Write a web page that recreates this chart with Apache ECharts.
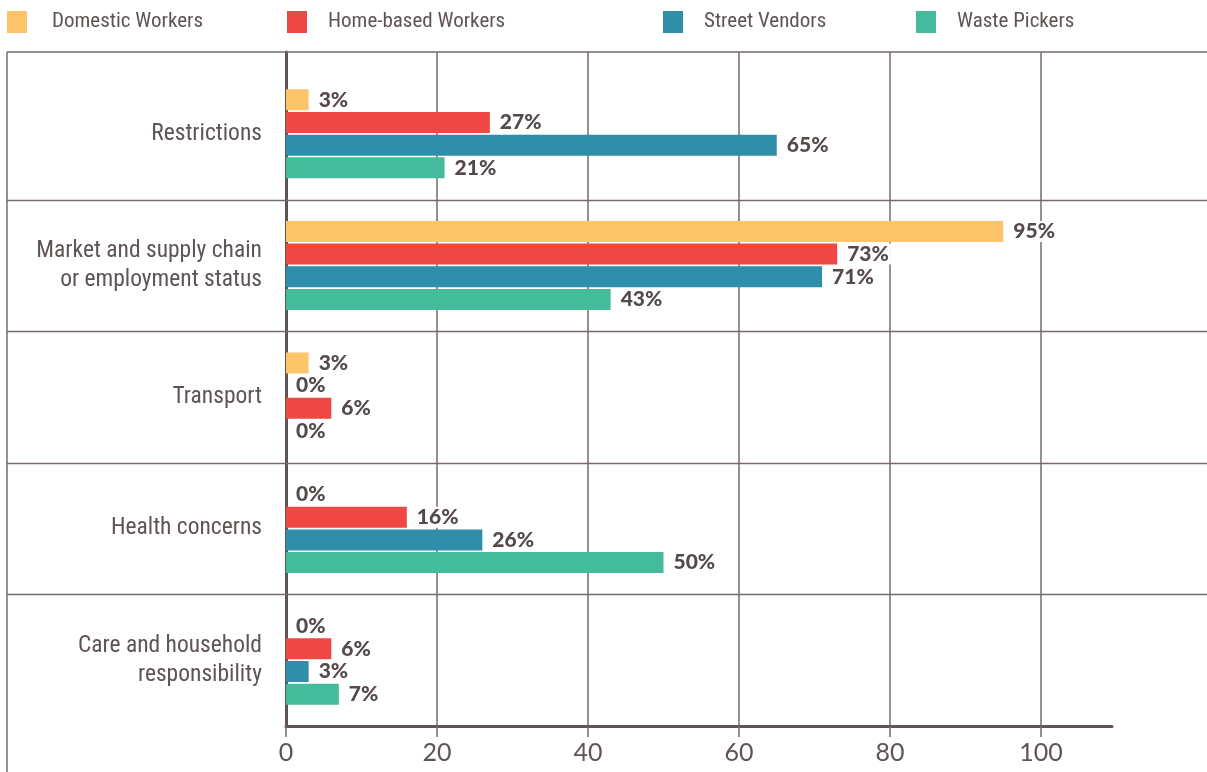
<!DOCTYPE html>
<html>
<head>
<meta charset="utf-8">
<script src="https://cdn.jsdelivr.net/npm/echarts@6/dist/echarts.min.js"></script>
<style>
html, body { margin: 0; padding: 0; background: #fff; }
#chart { width: 1207px; height: 772px; }
</style>
</head>
<body>
<div id="chart"></div>
<script>
var categories = ['Restrictions', 'Market and supply chain\nor employment status', 'Transport', 'Health concerns', 'Care and household\nresponsibility'];
var seriesNames = ['Domestic Workers', 'Home-based Workers', 'Street Vendors', 'Waste Pickers'];
var domestic = [3, 95, 3, 0, 0];
var homeBased = [27, 73, 0, 16, 6];
var streetVendors = [65, 71, 6, 26, 3];
var wastePickers = [21, 43, 0, 50, 7];
var xTicks = [0, 20, 40, 60, 80, 100];

var colors = ['#fdc46a', '#ef4744', '#2f8ea9', '#44bc9b'];
var textColor = '#5e5453';
var lineColor = '#766b69';
var condensed = '"Roboto Condensed", "Liberation Sans Narrow", "DejaVu Sans Condensed", sans-serif';

var chart = echarts.init(document.getElementById('chart'));

function makeSeries(idx, values) {
	var data = values.map(function(v, i) {
		// the transport bar of street vendors is drawn in red in the source
		if (idx == 2 && i == 2) return {value: v, itemStyle: {color: colors[1]}};
		return v;
	});
	return {
		name: seriesNames[idx],
		type: 'bar',
		xAxisIndex: 0,
		yAxisIndex: 0,
		barWidth: 21,
		barGap: '8%',
		itemStyle: {color: colors[idx]},
		label: {
			show: true,
			position: 'right',
			distance: 8,
			formatter: '{c}%',
			fontFamily: 'Lato',
			fontWeight: 900,
			fontSize: 21,
			color: '#544a49',
			backgroundColor: '#fff',
			padding: [0, 2]
		},
		data: data,
		z: 3
	};
}

var legendX = [7, 287, 663, 916];
var legends = seriesNames.map(function(name, i) {
	return {
		data: [name],
		left: legendX[i],
		top: 11,
		padding: 0,
		icon: 'rect',
		itemWidth: 20,
		itemHeight: 22,
		selectedMode: false,
		textStyle: {
			fontFamily: condensed,
			fontSize: 21,
			color: textColor,
			padding: [0, 0, 0, i == 0 ? 20 : 16]
		}
	};
});

var option = {
	animation: false,
	legend: legends,
	grid: [
		{left: 286, right: 95, top: 68, bottom: 46},
		{left: 286, right: 166, top: 52, bottom: 46}
	],
	xAxis: [
		{
			type: 'value', gridIndex: 0, min: 0, max: 109.4,
			axisLine: {show: true, lineStyle: {color: textColor, width: 3}},
			axisTick: {show: false}, axisLabel: {show: false}, splitLine: {show: false}
		},
		{
			type: 'value', gridIndex: 1, min: 0, max: 100, interval: 20,
			axisLine: {show: false},
			axisTick: {show: true, length: 11, customValues: xTicks, lineStyle: {color: lineColor, width: 1.5}},
			axisLabel: {
				customValues: xTicks, margin: 14,
				fontFamily: 'Lato', fontSize: 25, color: textColor
			},
			splitLine: {show: true, lineStyle: {color: lineColor, width: 1.5}}
		}
	],
	yAxis: [
		{
			type: 'category', gridIndex: 0, inverse: true, data: categories,
			axisLine: {show: false}, axisTick: {show: false},
			axisLabel: {
				margin: 24, fontFamily: condensed, fontSize: 23.5, lineHeight: 29, color: textColor, align: 'right',
				padding: [0, 0, 5, 0]
			}
		},
		{
			type: 'value', gridIndex: 1, min: 0, max: 1,
			axisLine: {show: true, lineStyle: {color: textColor, width: 3}},
			axisTick: {show: false}, axisLabel: {show: false}, splitLine: {show: false}
		}
	],
	series: [
		makeSeries(0, domestic),
		makeSeries(1, homeBased),
		makeSeries(2, streetVendors),
		makeSeries(3, wastePickers)
	]
};

chart.setOption(option);

// frame lines round the category rows, placed from the category axis
var centers = categories.map(function(c, i) {
	return chart.convertToPixel({yAxisIndex: 0}, i);
});
var frame = [];
var lineStyle = {stroke: lineColor, lineWidth: 1.5};
frame.push({type: 'line', shape: {x1: 7, y1: 52, x2: 1207, y2: 52}, style: lineStyle, z: 1});
frame.push({type: 'line', shape: {x1: 7, y1: 52, x2: 7, y2: 772}, style: lineStyle, z: 1});
for (var i = 0; i < centers.length - 1; i++) {
	var y = Math.round((centers[i] + centers[i + 1]) / 2) + 0.5;
	frame.push({type: 'line', shape: {x1: 7, y1: y, x2: 1207, y2: y}, style: lineStyle, z: 1});
}
chart.setOption({graphic: frame});
</script>
</body>
</html>
